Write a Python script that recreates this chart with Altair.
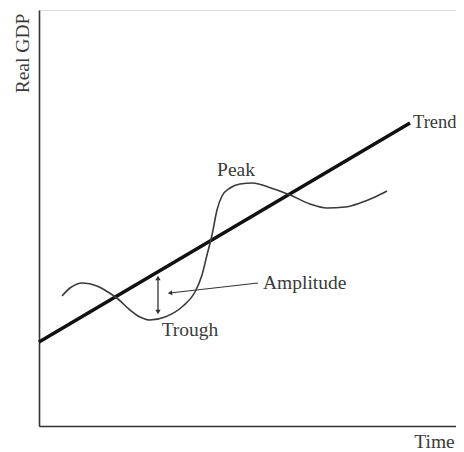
import altair as alt
import pandas as pd

# Schematic business-cycle diagram (units = positions)
trend_x = [0, 371]
trend_y = [84, 303]

wave_x = [23, 31, 44, 58, 69, 79, 91, 101, 111, 126, 144, 156, 163, 168, 173,
          178, 183, 191, 201, 214, 229, 251, 271, 288, 306, 321, 336, 348]
wave_y = [130, 138, 143, 140, 134, 127, 116, 109, 106, 109, 120, 134, 151, 171, 191,
          216, 230, 238, 242, 243, 239, 231, 222, 218, 219, 223, 229, 235]

amp_x = [119, 119]
amp_y = [114, 148]

pointer_x = [219, 131]
pointer_y = [143, 133]

label_text = ["Peak", "Amplitude", "Trough"]
label_x = [197, 224, 151]
label_y = [256, 143, 96]
label_align = ["center", "left", "center"]

trend_label = ["Trend"]
trend_label_x = [374]
trend_label_y = [304]

X = alt.Scale(domain=[0, 417], nice=False, zero=False)
Y = alt.Scale(domain=[0, 416], nice=False, zero=False)

FONT = "Liberation Serif"
TXT = "#3a3a3a"
FS = 19.5

xaxis = alt.Axis(domain=True, ticks=False, labels=False, grid=False,
                 domainColor="#333", domainWidth=1.6, title="Time",
                 titleFont=FONT, titleFontSize=FS, titleFontWeight="normal",
                 titleColor=TXT, titleX=395, titleY=15, titleAlign="center",
                 titleBaseline="middle")
yaxis = alt.Axis(domain=True, ticks=False, labels=False, grid=False,
                 domainColor="#333", domainWidth=1.6, title="Real GDP",
                 titleFont=FONT, titleFontSize=FS, titleFontWeight="normal",
                 titleColor=TXT, titleAngle=270, titleX=-17, titleY=43,
                 titleAlign="center", titleBaseline="middle")

trend_df = pd.DataFrame({"x": trend_x, "y": trend_y})
wave_df = pd.DataFrame({"x": wave_x, "y": wave_y, "o": list(range(len(wave_x)))})
amp_df = pd.DataFrame({"x": amp_x, "y": amp_y})
amp_heads = pd.DataFrame({"x": amp_x, "y": amp_y,
                          "shape": ["triangle-down", "triangle-up"]})
pointer_df = pd.DataFrame({"x": pointer_x, "y": pointer_y, "o": [0, 1]})
pointer_head = pd.DataFrame({"x": [pointer_x[1]], "y": [pointer_y[1]]})
labels_df = pd.DataFrame({"t": label_text, "x": label_x, "y": label_y,
                          "a": label_align})
trend_lab_df = pd.DataFrame({"t": trend_label, "x": trend_label_x,
                             "y": trend_label_y})

trend = alt.Chart(trend_df).mark_line(color="#111", strokeWidth=3.5).encode(
    x=alt.X("x:Q", scale=X, axis=xaxis),
    y=alt.Y("y:Q", scale=Y, axis=yaxis),
)

wave = alt.Chart(wave_df).mark_line(color="#3a3a3a", strokeWidth=1.6,
                                    interpolate="monotone").encode(
    x=alt.X("x:Q", scale=X), y=alt.Y("y:Q", scale=Y), order="o:Q"
)

amp = alt.Chart(amp_df).mark_line(color="#333", strokeWidth=1.3).encode(
    x=alt.X("x:Q", scale=X), y=alt.Y("y:Q", scale=Y)
)
heads = alt.Chart(amp_heads).mark_point(filled=True, color="#333", size=28,
                                        opacity=1).encode(
    x=alt.X("x:Q", scale=X), y=alt.Y("y:Q", scale=Y),
    shape=alt.Shape("shape:N", scale=None, legend=None)
)

pointer = alt.Chart(pointer_df).mark_line(color="#333", strokeWidth=1.2).encode(
    x=alt.X("x:Q", scale=X), y=alt.Y("y:Q", scale=Y), order="o:Q"
)
phead = alt.Chart(pointer_head).mark_point(filled=True, color="#333", size=26,
                                           shape="triangle-left", angle=354,
                                           opacity=1).encode(
    x=alt.X("x:Q", scale=X), y=alt.Y("y:Q", scale=Y)
)

texts = []
for al in ["left", "center"]:
    texts.append(
        alt.Chart(labels_df[labels_df["a"] == al]).mark_text(
            font=FONT, fontSize=FS, color=TXT, align=al, baseline="middle"
        ).encode(x=alt.X("x:Q", scale=X), y=alt.Y("y:Q", scale=Y), text="t:N")
    )
texts.append(
    alt.Chart(trend_lab_df).mark_text(
        font=FONT, fontSize=18.5, color=TXT, align="left", baseline="middle"
    ).encode(x=alt.X("x:Q", scale=X), y=alt.Y("y:Q", scale=Y), text="t:N")
)

chart = alt.layer(trend, wave, amp, heads, pointer, phead, *texts).properties(
    width=417, height=416,
    autosize=alt.AutoSizeParams(type="none"),
    padding={"left": 31, "top": 2, "right": 0, "bottom": 26},
).configure_view(stroke=None).configure(background="white")

chart.save("out.html", embed_options={"renderer": "svg", "actions": False})
